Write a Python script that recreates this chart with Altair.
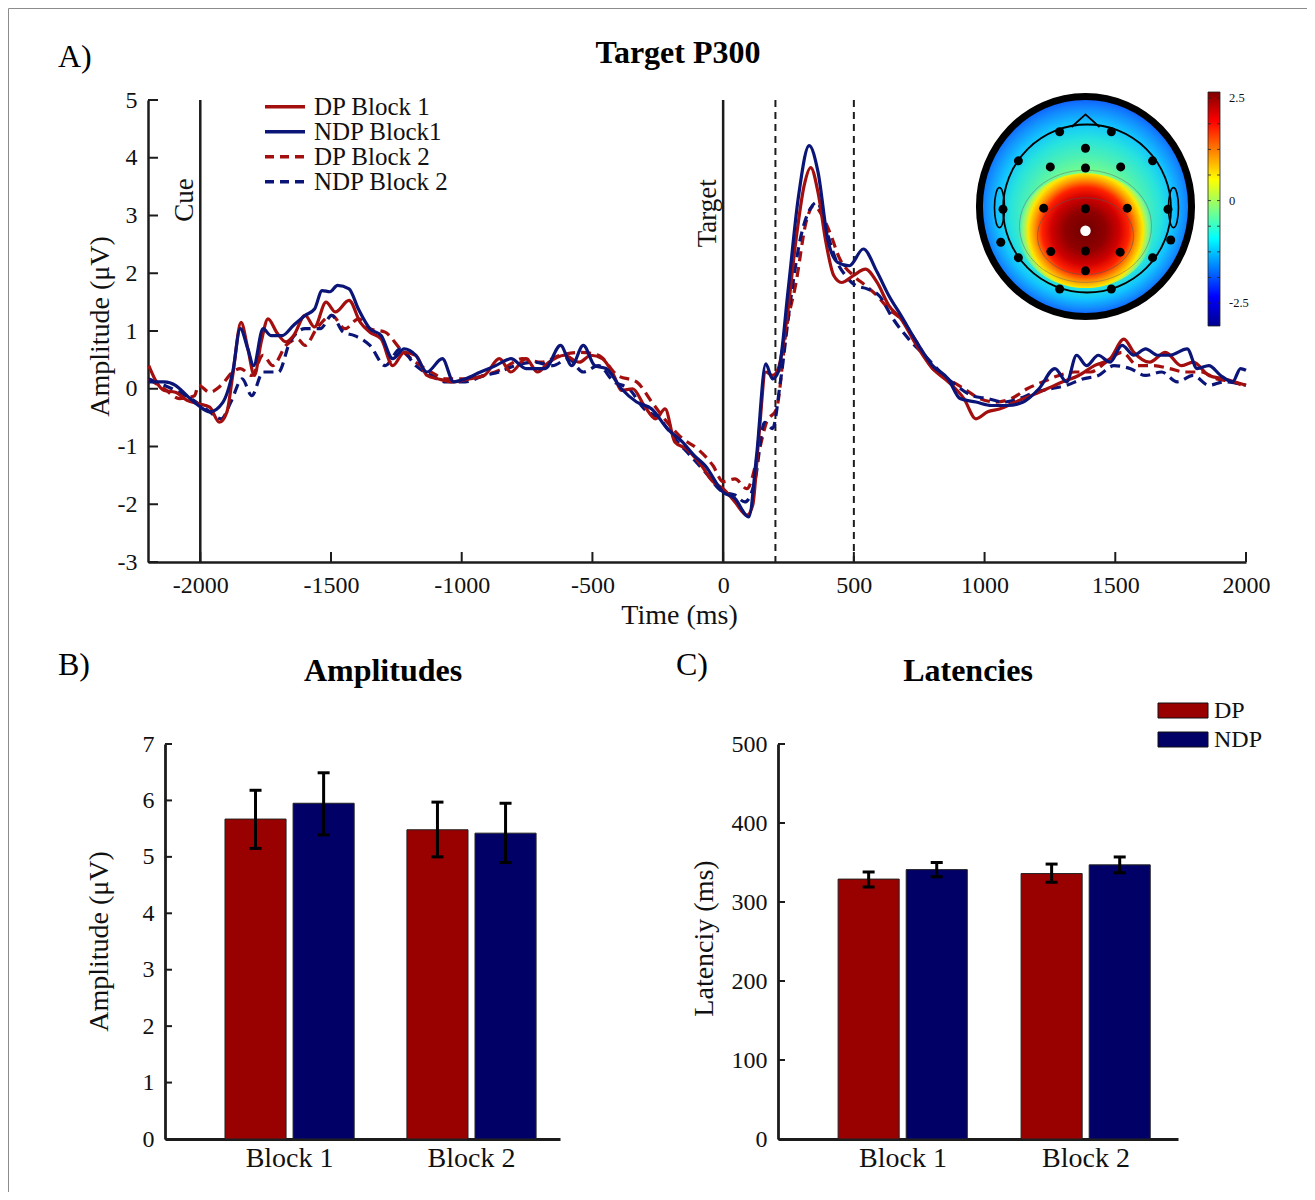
import altair as alt
import pandas as pd

FONT = "Liberation Serif"
INK = "#111111"
AXC = "#1c1c1c"
RED_L, NAVY_L = "#a30f0f", "#0b1577"
RED_B, NAVY_B = "#990000", "#000066"
W, H = 1299, 1184

# ---------------- data ----------------
series_names = ["DP Block 1", "NDP Block1", "DP Block 2", "NDP Block 2"]

dp1_t = [-2197, -2168, -2138, -2095, -2051, -2007, -1964, -1927, -1898, -1876,
         -1844, -1818, -1793, -1767, -1741, -1708, -1672, -1643, -1599, -1563,
         -1519, -1483, -1431, -1388, -1351, -1308, -1264, -1220, -1176, -1133,
         -1089, -1031, -972, -914, -856, -812, -754, -710, -666, -608,
         -550, -506, -462, -418, -389, -346, -302, -258, -222, -185,
         -141, -83, -39, 0,
         45, 91, 113, 136, 163, 189, 211, 242, 279, 310,
         335, 363, 393, 423, 453, 498, 544, 589, 634, 680,
         740, 801, 861, 921, 967, 1012, 1057, 1118, 1178, 1239,
         1299, 1360, 1420, 1480, 1533, 1571, 1631, 1692, 1752, 1798,
         1858, 1918, 2000]
dp1_v = [0.40, 0.12, -0.03, -0.06, -0.20, -0.26, -0.32, -0.58, -0.40, 0.23,
         1.15, 0.69, 0.23, 0.81, 1.21, 0.98, 0.81, 0.92, 1.27, 1.07,
         1.50, 1.33, 1.53, 1.15, 0.98, 0.86, 0.40, 0.63, 0.58, 0.23,
         0.17, 0.12, 0.17, 0.23, 0.52, 0.29, 0.52, 0.29, 0.46, 0.58,
         0.46, 0.58, 0.52, 0.23, -0.03, 0.00, -0.29, -0.52, -0.35, -0.92,
         -1.04, -1.33, -1.61, -1.73,
         -1.96, -2.19, -2.02, -0.86, 0.29, 0.23, 0.35, 1.15, 2.59, 3.52,
         3.83, 3.40, 2.54, 1.96, 1.84, 1.96, 2.07, 1.84, 1.44, 1.21,
         0.75, 0.35, 0.12, -0.17, -0.52, -0.40, -0.35, -0.23, -0.12, 0.00,
         0.12, 0.23, 0.40, 0.52, 0.86, 0.63, 0.46, 0.63, 0.40, 0.46,
         0.23, 0.17, 0.06]

ndp1_t = [-2197, -2138, -2095, -2051, -2007, -1964, -1913, -1876, -1847, -1818,
          -1796, -1760, -1730, -1687, -1643, -1599, -1563, -1534, -1504, -1475,
          -1431, -1395, -1351, -1308, -1264, -1220, -1176, -1133, -1074, -1031,
          -987, -928, -870, -812, -754, -681, -622, -579, -535, -491,
          -448, -389, -331, -273, -214, -156, -112, -69, 0,
          45, 98, 128, 163, 189, 211, 249, 287, 329, 363,
          400, 438, 483, 536, 589, 634, 680, 740, 801, 861,
          906, 967, 1027, 1088, 1148, 1208, 1269, 1314, 1352, 1390,
          1435, 1480, 1526, 1571, 1616, 1662, 1707, 1775, 1813, 1858,
          1903, 1949, 1979, 2000]
ndp1_v = [0.12, 0.12, 0.06, -0.12, -0.29, -0.40, -0.23, 0.29, 1.04, 0.69,
          0.40, 1.04, 0.92, 0.92, 1.10, 1.27, 1.38, 1.70, 1.68, 1.79,
          1.73, 1.38, 1.04, 0.92, 0.52, 0.69, 0.58, 0.29, 0.52, 0.12,
          0.17, 0.29, 0.40, 0.52, 0.35, 0.35, 0.75, 0.40, 0.75, 0.40,
          0.35, 0.00, -0.23, -0.35, -0.69, -0.92, -1.15, -1.33, -1.79,
          -1.90, -2.22, -1.15, 0.43, 0.17, 0.29, 1.73, 3.29, 4.21, 3.75,
          2.59, 2.19, 2.13, 2.42, 2.02, 1.61, 1.27, 0.81, 0.40, 0.17,
          -0.17, -0.23, -0.29, -0.29, -0.23, 0.00, 0.35, 0.12, 0.58, 0.40,
          0.58, 0.46, 0.75, 0.58, 0.69, 0.58, 0.58, 0.69, 0.35, 0.40,
          0.23, 0.12, 0.35, 0.32]

dp2_t = [-2197, -2138, -2080, -2022, -2007, -1964, -1920, -1876, -1847, -1803,
         -1760, -1723, -1672, -1628, -1599, -1555, -1497, -1446, -1395, -1351,
         -1293, -1235, -1176, -1118, -1060, -987, -914, -841, -768, -695,
         -622, -550, -477, -404, -331, -273, -214, -156, -98, -39,
         0,
         45, 91, 136, 166, 204, 242, 279, 317, 347, 378,
         408, 446, 498, 544, 589, 634, 680, 740, 801, 861,
         921, 982, 1042, 1103, 1163, 1224, 1284, 1344, 1405, 1465,
         1526, 1586, 1647, 1707, 1767, 1828, 1888, 1949, 2000]
dp2_v = [0.17, 0.00, -0.17, -0.12, 0.06, -0.06, 0.06, 0.29, 0.35, 0.23,
         0.58, 0.40, 0.75, 0.86, 0.75, 1.04, 1.27, 1.04, 1.21, 1.04,
         0.98, 0.69, 0.46, 0.29, 0.17, 0.17, 0.23, 0.35, 0.52, 0.46,
         0.58, 0.63, 0.58, 0.23, 0.12, -0.23, -0.58, -0.86, -1.04, -1.33,
         -1.61,
         -1.56, -1.73, -1.10, -0.58, -0.35, 1.04, 1.84, 2.88, 3.17, 3.00,
         2.71, 2.25, 1.96, 1.79, 1.61, 1.38, 1.21, 0.81, 0.35, 0.17,
         0.00, -0.17, -0.23, -0.17, 0.00, 0.12, 0.23, 0.29, 0.29, 0.46,
         0.63, 0.40, 0.40, 0.35, 0.29, 0.29, 0.17, 0.12, 0.03]

ndp2_t = [-2197, -2138, -2080, -2036, -1978, -1920, -1883, -1840, -1803, -1760,
          -1701, -1657, -1599, -1541, -1497, -1453, -1410, -1351, -1293, -1235,
          -1176, -1118, -1060, -987, -914, -856, -797, -725, -652, -593,
          -535, -477, -418, -360, -302, -243, -185, -127, -69, 0,
          45, 83, 121, 159, 189, 219, 257, 295, 332, 360,
          393, 430, 468, 506, 551, 597, 650, 710, 770, 831,
          891, 952, 1012, 1073, 1133, 1193, 1254, 1314, 1375, 1435,
          1495, 1556, 1616, 1677, 1737, 1798, 1858, 1918, 2000]
ndp2_v = [0.17, 0.06, -0.06, -0.17, -0.35, -0.52, -0.23, 0.17, -0.12, 0.29,
          0.29, 0.81, 1.04, 1.04, 1.27, 0.98, 0.92, 0.75, 0.40, 0.69,
          0.40, 0.23, 0.12, 0.12, 0.23, 0.29, 0.40, 0.46, 0.40, 0.52,
          0.29, 0.40, 0.12, 0.00, -0.35, -0.52, -0.86, -1.15, -1.44, -1.79,
          -1.84, -1.96, -1.61, -0.58, -0.69, 0.12, 1.50, 2.59, 3.11, 3.23,
          2.77, 2.25, 1.96, 1.79, 1.73, 1.61, 1.21, 0.86, 0.58, 0.29,
          0.06, -0.12, -0.17, -0.23, -0.17, -0.06, 0.00, 0.06, 0.17, 0.23,
          0.40, 0.35, 0.23, 0.29, 0.12, 0.23, 0.06, 0.12, 0.06]

event_times = [-2000, 0]
event_labels = ["Cue", "Target"]
event_label_v = [3.27, 3.04]
window_times = [200, 500]
time_ticks = [-2000, -1500, -1000, -500, 0, 500, 1000, 1500, 2000]
amp_ticks = [-3, -2, -1, 0, 1, 2, 3, 4, 5]

bar_blocks = ["Block 1", "Block 1", "Block 2", "Block 2"]
bar_groups = ["DP", "NDP", "DP", "NDP"]
amp_mean = [5.67, 5.95, 5.48, 5.42]
amp_lo = [5.15, 5.39, 5.00, 4.90]
amp_hi = [6.18, 6.49, 5.97, 5.95]
lat_mean = [329, 341, 336, 347]
lat_lo = [319, 332, 325, 337]
lat_hi = [338, 350, 348, 357]
amp_axis_ticks = [0, 1, 2, 3, 4, 5, 6, 7]
lat_axis_ticks = [0, 100, 200, 300, 400, 500]

# topographic inset: electrode positions (normalised head units)
elec_x = [-0.235, 0.235, 0.0, -0.61, 0.61, -0.32, 0.0, 0.32, -0.75, -0.38, 0.0, 0.38,
          0.75, -0.77, 0.775, -0.315, 0.0, 0.315, -0.61, 0.61, 0.0, -0.235, 0.235]
elec_y = [0.68, 0.68, 0.53, 0.415, 0.415, 0.36, 0.35, 0.36, -0.025, -0.015, -0.02, -0.015,
          -0.025, -0.325, -0.305, -0.41, -0.405, -0.415, -0.465, -0.465, -0.585, -0.75, -0.75]
peak_x = [0.0]
peak_y = [-0.22]
cbar_values = [2.5, 0, -2.5]
cbar_minor = [-2.5, -1.875, -1.25, -0.625, 0, 0.625, 1.25, 1.875, 2.5]
cbar_lim = [-3.06, 2.65]

# ---------------- helpers ----------------
def base_axis(**kw):
    d = dict(ticks=False, tickSize=0, grid=False, domainColor=AXC, domainWidth=2.5,
             labelFont=FONT, labelColor=INK, labelFlush=False, labelOverlap=False,
             titleFont=FONT, titleFontWeight="normal", titleColor=INK,
             titleBaseline="alphabetic", titleAlign="center")
    d.update(kw)
    return alt.Axis(**d)


def one_row():
    return pd.DataFrame({"k": [0]})


def label(text, x, y, size=32, bold=False, align="left"):
    return alt.Chart(one_row()).mark_text(
        text=text, font=FONT, fontSize=size, fontWeight="bold" if bold else "normal",
        color="black", align=align, baseline="alphabetic"
    ).encode(x=alt.value(x), y=alt.value(y))


def ellipse_path(rx, ry):
    return f"M {-rx} 0 A {rx} {ry} 0 1 0 {rx} 0 A {rx} {ry} 0 1 0 {-rx} 0 Z"


layers = []

# ---------------- panel A ----------------
xA = alt.Scale(domain=[-2200, 2000], range=[140, 1238], nice=False, zero=False)
yA = alt.Scale(domain=[-3, 5], range=[554, 92], nice=False, zero=False)

axA_x = base_axis(orient="bottom", offset=554 - H, values=time_ticks,
                  labelExpr="'' + datum.value", labelFontSize=24, labelPadding=11,
                  title="Time (ms)", titleFontSize=28, titleX=671, titleY=61)
axA_y = base_axis(orient="left", offset=-140, values=amp_ticks,
                  labelExpr="'' + datum.value", labelFontSize=24, labelPadding=11,
                  title="Amplitude (μV)", titleFontSize=28, titleAngle=270,
                  titleX=-40, titleY=318)


def erp_layer(t, v, color, dash=None, axes=False):
    df = pd.DataFrame({"t": t, "v": v})
    kw = dict(color=color, strokeWidth=3.2, interpolate="monotone", strokeJoin="round")
    if dash:
        kw["strokeDash"] = dash
    return alt.Chart(df).mark_line(**kw).encode(
        x=alt.X("t:Q", scale=xA, axis=axA_x if axes else None),
        y=alt.Y("v:Q", scale=yA, axis=axA_y if axes else None),
    )


layers.append(alt.Chart(pd.DataFrame({"t": event_times})).mark_rule(color=AXC, strokeWidth=2.5).encode(
    x=alt.X("t:Q", scale=xA, axis=None),
    y=alt.Y(datum=5, scale=yA, axis=None), y2=alt.Y2(datum=-3)))
layers.append(alt.Chart(pd.DataFrame({"t": window_times})).mark_rule(
    color=AXC, strokeWidth=2, strokeDash=[7, 5]).encode(
    x=alt.X("t:Q", scale=xA, axis=None),
    y=alt.Y(datum=5, scale=yA, axis=None), y2=alt.Y2(datum=-3)))
layers.append(erp_layer(dp2_t, dp2_v, RED_L, [10, 6]))
layers.append(erp_layer(ndp2_t, ndp2_v, NAVY_L, [10, 6]))
layers.append(erp_layer(dp1_t, dp1_v, RED_L, axes=True))
layers.append(erp_layer(ndp1_t, ndp1_v, NAVY_L))
layers.append(alt.Chart(pd.DataFrame({"t": time_ticks})).mark_rule(color=AXC, strokeWidth=2).encode(
    x=alt.X("t:Q", scale=xA, axis=None), y=alt.value(554), y2=alt.value(544)))
layers.append(alt.Chart(pd.DataFrame({"v": amp_ticks})).mark_rule(color=AXC, strokeWidth=2).encode(
    y=alt.Y("v:Q", scale=yA, axis=None), x=alt.value(140), x2=alt.value(150)))
layers.append(alt.Chart(pd.DataFrame({"t": event_times, "v": event_label_v, "label": event_labels})).mark_text(
    angle=270, font=FONT, fontSize=27, color=INK, align="center", baseline="alphabetic", dy=-7
).encode(x=alt.X("t:Q", scale=xA, axis=None), y=alt.Y("v:Q", scale=yA, axis=None), text="label:N"))

# legend of panel A
legA_df = pd.DataFrame({"name": series_names, "row": [0, 1, 2, 3]})
yLA = alt.Scale(domain=[0, 3], range=[98.7, 173.7])
legA_color = alt.Scale(domain=series_names, range=[RED_L, NAVY_L, RED_L, NAVY_L])
legA_dash = alt.Scale(domain=series_names, range=[[1, 0], [1, 0], [9, 6], [9, 6]])
layers.append(alt.Chart(legA_df).mark_rule(strokeWidth=3.5).encode(
    x=alt.value(257), x2=alt.value(297),
    y=alt.Y("row:Q", scale=yLA, axis=None),
    color=alt.Color("name:N", scale=legA_color, legend=None),
    strokeDash=alt.StrokeDash("name:N", scale=legA_dash, legend=None)))
layers.append(alt.Chart(legA_df).mark_text(
    font=FONT, fontSize=25, color=INK, align="left", baseline="middle").encode(
    x=alt.value(306), y=alt.Y("row:Q", scale=yLA, axis=None), text="name:N"))

# ---------------- topographic inset ----------------
xT = alt.Scale(domain=[-1, 1], range=[967.5, 1187.5], nice=False, zero=False)
yT = alt.Scale(domain=[-1, 1], range=[308.5, 88.5], nice=False, zero=False)

bg_grad = {"gradient": "radial", "x1": 0.5, "y1": 0.6, "r1": 0, "x2": 0.5, "y2": 0.5, "r2": 0.5,
           "stops": [{"offset": 0.0, "color": "#a8ff68"},
                     {"offset": 0.4, "color": "#80ff80"},
                     {"offset": 0.55, "color": "#4cf0b4"},
                     {"offset": 0.68, "color": "#28e4dc"},
                     {"offset": 0.8, "color": "#12c4ff"},
                     {"offset": 0.9, "color": "#1290ff"},
                     {"offset": 1.0, "color": "#1055ff"}]}
blob_grad = {"gradient": "radial", "x1": 0.5, "y1": 0.5, "r1": 0, "x2": 0.5, "y2": 0.5, "r2": 0.5,
             "stops": [{"offset": 0.0, "color": "#6e0000"},
                       {"offset": 0.3, "color": "#900000"},
                       {"offset": 0.5, "color": "#d00000"},
                       {"offset": 0.64, "color": "#ff2000"},
                       {"offset": 0.75, "color": "#ff9000"},
                       {"offset": 0.85, "color": "#ffe800"},
                       {"offset": 0.93, "color": "rgba(190,255,80,0.55)"},
                       {"offset": 1.0, "color": "rgba(140,255,120,0)"}]}


def topo_layer(df, mark):
    return mark(alt.Chart(df)).encode(
        x=alt.X("x:Q", scale=xT, axis=None), y=alt.Y("y:Q", scale=yT, axis=None))


def pos(x, y):
    return pd.DataFrame({"x": x, "y": y})


layers.append(topo_layer(pos([0.0], [0.0]), lambda c: c.mark_point(
    shape=ellipse_path(0.964, 1), size=220 ** 2, filled=True, fill=bg_grad,
    stroke="black", strokeWidth=7, opacity=1)))
layers.append(topo_layer(pos([0.0], [-0.22]), lambda c: c.mark_point(
    shape=ellipse_path(1, 0.85), size=135 ** 2, filled=True, fill=blob_grad,
    strokeWidth=0, opacity=1)))
layers.append(topo_layer(pos([0.0], [-0.18]), lambda c: c.mark_point(
    shape=ellipse_path(1, 0.85), size=132 ** 2, filled=False, stroke="#666666",
    strokeWidth=0.8, opacity=0.6)))
layers.append(topo_layer(pos([0.0], [-0.27]), lambda c: c.mark_point(
    shape=ellipse_path(1, 0.8), size=96 ** 2, filled=False, stroke="#555555",
    strokeWidth=0.8, opacity=0.7)))
layers.append(topo_layer(pos([0.014], [-0.018]), lambda c: c.mark_point(
    shape="circle", size=168 ** 2, filled=False, stroke="black", strokeWidth=1.8, opacity=1)))
layers.append(topo_layer(pos([0.0], [0.78]), lambda c: c.mark_point(
    shape="M -1 0.45 L 0 -0.45 L 1 0.45", size=28 ** 2, filled=False, stroke="black",
    strokeWidth=1.8, opacity=1)))
layers.append(topo_layer(pos([-0.782, 0.80], [-0.01, -0.01]), lambda c: c.mark_point(
    shape=ellipse_path(0.25, 1), size=40 ** 2, filled=False, stroke="black",
    strokeWidth=1.6, opacity=1)))
layers.append(topo_layer(pos(elec_x, elec_y), lambda c: c.mark_circle(
    size=81, color="black", opacity=1)))
layers.append(topo_layer(pos(peak_x, peak_y), lambda c: c.mark_circle(
    size=110, color="white", opacity=1)))

# colour bar
yCb = alt.Scale(domain=cbar_lim, range=[318, 84], nice=False, zero=False)
cbar_grad = {"gradient": "linear", "x1": 0, "y1": 0, "x2": 0, "y2": 1,
             "stops": [{"offset": 0.0, "color": "#800000"},
                       {"offset": 0.125, "color": "#ff0000"},
                       {"offset": 0.375, "color": "#ffff00"},
                       {"offset": 0.625, "color": "#00ffff"},
                       {"offset": 0.875, "color": "#0000ff"},
                       {"offset": 1.0, "color": "#00008f"}]}
layers.append(alt.Chart(one_row()).mark_rect(fill=cbar_grad, stroke="#222222", strokeWidth=0.8).encode(
    x=alt.value(1200), x2=alt.value(1212),
    y=alt.Y(datum=cbar_lim[1], scale=yCb, axis=None), y2=alt.Y2(datum=cbar_lim[0])))
for xa, xb in [(1209, 1212), (1200, 1203)]:
    layers.append(alt.Chart(pd.DataFrame({"c": cbar_minor})).mark_rule(color="#222222", strokeWidth=0.8).encode(
        y=alt.Y("c:Q", scale=yCb, axis=None), x=alt.value(xa), x2=alt.value(xb)))
layers.append(alt.Chart(pd.DataFrame({"c": cbar_values, "s": ["2.5", "0", "-2.5"]})).mark_text(
    font=FONT, fontSize=12.5, color=INK, align="left", baseline="middle").encode(
    y=alt.Y("c:Q", scale=yCb, axis=None), x=alt.value(1221), text="s:N"))

# ---------------- panels B and C ----------------
grp_color = alt.Scale(domain=["DP", "NDP"], range=[RED_B, NAVY_B])
xoff = alt.Scale(domain=["DP", "NDP"], paddingInner=0.103, paddingOuter=0)


def bar_panel(mean, lo, hi, x_range, pad_o, align, y_dom, y_ticks, title, title_x, title_y):
    df = pd.DataFrame({"block": bar_blocks, "group": bar_groups, "m": mean, "lo": lo, "hi": hi})
    xs = alt.Scale(type="band", domain=["Block 1", "Block 2"], range=x_range,
                   paddingInner=0.29, paddingOuter=pad_o, align=align)
    ys = alt.Scale(domain=y_dom, range=[1131, 736], nice=False, zero=False)
    ax_x = base_axis(orient="bottom", offset=1131 - H, labelFontSize=28, labelPadding=5,
                     labelAngle=0, labelAlign="center", labelBaseline="top",
                     domainWidth=2.8, title="")
    ax_y = base_axis(orient="left", offset=-x_range[0], values=y_ticks, labelFontSize=24,
                     labelPadding=11, domainWidth=2.8, title=title, titleFontSize=28,
                     titleAngle=270, titleX=title_x, titleY=title_y)
    # transparent carrier of the axes
    carrier = alt.Chart(df).mark_bar(opacity=0).encode(
        x=alt.X("block:N", scale=xs, axis=ax_x), y=alt.Y("m:Q", scale=ys, axis=ax_y))
    xo = alt.XOffset("group:N", scale=xoff)
    bars = alt.Chart(df).mark_bar(stroke="#222222", strokeWidth=1).encode(
        x=alt.X("block:N", scale=xs, axis=None), xOffset=xo,
        y=alt.Y("m:Q", scale=ys, axis=None),
        color=alt.Color("group:N", scale=grp_color, legend=None))
    err = alt.Chart(df).mark_rule(color="black", strokeWidth=3).encode(
        x=alt.X("block:N", scale=xs, axis=None), xOffset=xo,
        y=alt.Y("lo:Q", scale=ys, axis=None), y2="hi:Q")
    cap_lo = alt.Chart(df).mark_tick(color="black", thickness=3, size=12, orient="horizontal", opacity=1).encode(
        x=alt.X("block:N", scale=xs, axis=None), xOffset=xo, y=alt.Y("lo:Q", scale=ys, axis=None))
    cap_hi = alt.Chart(df).mark_tick(color="black", thickness=3, size=12, orient="horizontal", opacity=1).encode(
        x=alt.X("block:N", scale=xs, axis=None), xOffset=xo, y=alt.Y("hi:Q", scale=ys, axis=None))
    ticks = alt.Chart(pd.DataFrame({"v": y_ticks})).mark_rule(color=AXC, strokeWidth=2).encode(
        y=alt.Y("v:Q", scale=ys, axis=None), x=alt.value(x_range[0]), x2=alt.value(x_range[0] + 7))
    return carrier, alt.layer(bars, err, cap_lo, cap_hi, ticks)


carB, panelB = bar_panel(amp_mean, amp_lo, amp_hi, [157, 552], 0.2306, 0.715, [0, 7], amp_axis_ticks,
                         "Amplitude (μV)", -58, 933)
carC, panelC = bar_panel(lat_mean, lat_lo, lat_hi, [770, 1170], 0.238, 0.69, [0, 500], lat_axis_ticks,
                         "Latenciy (ms)", -66, 930)
layers += [carB, panelB, carC, panelC]

# legend of panel C
legC_df = pd.DataFrame({"group": ["DP", "NDP"], "row": [0, 1]})
yLC = alt.Scale(domain=[0, 1], range=[702.5, 731.5])
layers.append(alt.Chart(legC_df).mark_point(
    shape="M -1 -0.3 L 1 -0.3 L 1 0.3 L -1 0.3 Z", size=50 ** 2, filled=True, opacity=1,
    stroke="#111111", strokeWidth=1).encode(
    x=alt.value(1175), y=alt.Y("row:Q", scale=yLC, axis=None),
    fill=alt.Fill("group:N", scale=grp_color, legend=None)))
layers.append(alt.Chart(legC_df).mark_text(
    font=FONT, fontSize=24, color=INK, align="left", baseline="middle").encode(
    x=alt.value(1206), y=alt.Y("row:Q", scale=yLC, axis=None), text="group:N"))

# ---------------- titles ----------------
layers += [
    label("A)", 50, 59),
    label("Target P300", 670, 55, bold=True, align="center"),
    label("B)", 50, 667),
    label("Amplitudes", 375, 673, bold=True, align="center"),
    label("C)", 668, 667),
    label("Latencies", 960, 673, bold=True, align="center"),
]

chart = alt.layer(*layers).resolve_scale(
    x="independent", y="independent", color="independent", fill="independent",
    strokeDash="independent"
).properties(
    width=W, height=H, autosize=alt.AutoSizeParams(type="none"), padding=0
).configure_view(stroke="#8c8c8c", strokeWidth=1)

chart.save("out.html", embed_options={"renderer": "svg", "actions": False})
